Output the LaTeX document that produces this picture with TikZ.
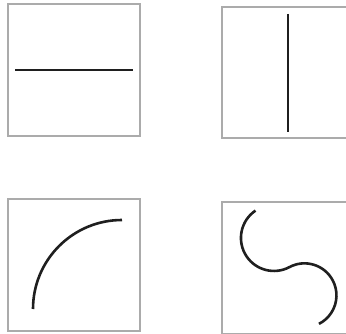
\documentclass[tikz,border=0pt]{standalone}
\usepackage{xcolor}
\usepackage{tikz}
\tikzset{
  frame/.style={draw=black!33, line width=1.2pt},
  stroke/.style={draw=black!88, line width=2.6pt},
}
\begin{document}
\begin{tikzpicture}[x=1pt, y=1pt]
    \clip (0,0) rectangle (346,333);
    % top row: straight strokes
    \draw[frame] (8,197) rectangle (140,329);
    \draw[stroke] (15,263) -- (133,263);
    \draw[frame] (222,195) rectangle (354,326);
    \draw[stroke] (288,319) -- (288,201);
    % bottom row: curved strokes
    \draw[frame] (8,2) rectangle (140,134);
    \draw[stroke] (33,24) arc[start angle=180, end angle=90, radius=89];
    \draw[frame] (222,-1) rectangle (354,131);
    \draw[stroke] (255.5,122.4) arc[start angle=124, end angle=298, radius=33]
                  arc[start angle=118, end angle=-63, radius=32];
\end{tikzpicture}
\end{document}
